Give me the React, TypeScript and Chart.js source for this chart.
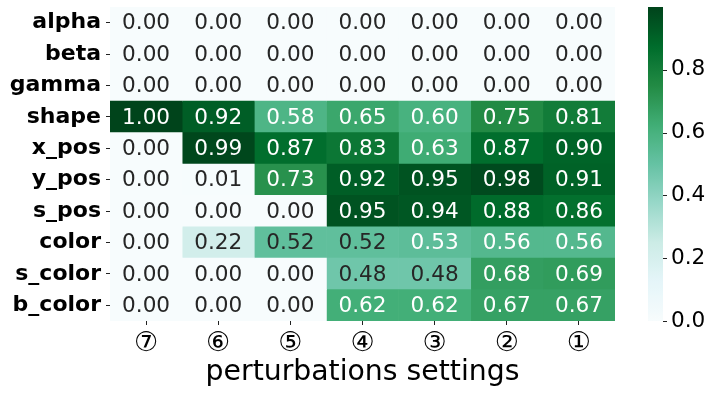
import React, { useEffect, useRef } from "react";
import { Chart, registerables } from "chart.js";

Chart.register(...registerables);

// ---------------- data ----------------
const rowLabels = ["alpha", "beta", "gamma", "shape", "x_pos", "y_pos", "s_pos", "color", "s_color", "b_color"];
const columnLabels = ["⑦", "⑥", "⑤", "④", "③", "②", "①"];

const alphaValues = [0.0, 0.0, 0.0, 0.0, 0.0, 0.0, 0.0];
const betaValues = [0.0, 0.0, 0.0, 0.0, 0.0, 0.0, 0.0];
const gammaValues = [0.0, 0.0, 0.0, 0.0, 0.0, 0.0, 0.0];
const shapeValues = [1.0, 0.92, 0.58, 0.65, 0.6, 0.75, 0.81];
const xPosValues = [0.0, 0.99, 0.87, 0.83, 0.63, 0.87, 0.9];
const yPosValues = [0.0, 0.01, 0.73, 0.92, 0.95, 0.98, 0.91];
const sPosValues = [0.0, 0.0, 0.0, 0.95, 0.94, 0.88, 0.86];
const colorValues = [0.0, 0.22, 0.52, 0.52, 0.53, 0.56, 0.56];
const sColorValues = [0.0, 0.0, 0.0, 0.48, 0.48, 0.68, 0.69];
const bColorValues = [0.0, 0.0, 0.0, 0.62, 0.62, 0.67, 0.67];

const matrix = [
  alphaValues,
  betaValues,
  gammaValues,
  shapeValues,
  xPosValues,
  yPosValues,
  sPosValues,
  colorValues,
  sColorValues,
  bColorValues,
];

const colorbarTicks = [0.0, 0.2, 0.4, 0.6, 0.8];
const colorMin = 0;
const colorMax = 1;
const xAxisTitle = "perturbations settings";

// ---------------- colormap (BuGn) ----------------
const BUGN: number[][] = [
  [247, 252, 253],
  [229, 245, 249],
  [204, 236, 230],
  [153, 216, 201],
  [102, 194, 164],
  [65, 174, 118],
  [35, 139, 69],
  [0, 109, 44],
  [0, 68, 27],
];

function cmapRGB(v: number): number[] {
  let t = (v - colorMin) / (colorMax - colorMin);
  t = Math.max(0, Math.min(1, t));
  const idx = Math.min(255, Math.floor(t * 256));
  const q = idx / 255;
  const s = q * (BUGN.length - 1);
  const i = Math.min(BUGN.length - 2, Math.floor(s));
  const f = s - i;
  return [0, 1, 2].map((k) => BUGN[i][k] + (BUGN[i + 1][k] - BUGN[i][k]) * f);
}

function cmap(v: number): string {
  const [r, g, b] = cmapRGB(v);
  return `rgb(${Math.round(r)},${Math.round(g)},${Math.round(b)})`;
}

function luminance(rgb: number[]): number {
  const lin = rgb.map((c) => {
    const x = c / 255;
    return x <= 0.03928 ? x / 12.92 : Math.pow((x + 0.055) / 1.055, 2.4);
  });
  return 0.2126 * lin[0] + 0.7152 * lin[1] + 0.0722 * lin[2];
}

function textColor(v: number): string {
  return luminance(cmapRGB(v)) > 0.415 ? "#262626" : "#ffffff";
}

const FONT = "'DejaVu Sans', sans-serif";

function zeroPadding(scale: any) {
  scale.paddingTop = 0;
  scale.paddingBottom = 0;
  scale.paddingLeft = 0;
  scale.paddingRight = 0;
}

// ---------------- plugins ----------------
const annotationPlugin = {
  id: "cellAnnotations",
  afterDatasetsDraw(chart: any) {
    const ctx = chart.ctx;
    ctx.save();
    ctx.font = `21.6px ${FONT}`;
    ctx.textAlign = "center";
    ctx.textBaseline = "middle";
    chart.data.datasets.forEach((_: any, c: number) => {
      const meta = chart.getDatasetMeta(c);
      meta.data.forEach((el: any, r: number) => {
        const p = el.getCenterPoint();
        const v = matrix[r][c];
        ctx.fillStyle = textColor(v);
        ctx.fillText(v.toFixed(2), p.x, p.y + 1);
      });
    });
    ctx.restore();
  },
};

const colorbarPlugin = {
  id: "colorbar",
  afterDraw(chart: any) {
    const scale = chart.scales.cb;
    if (!scale) return;
    const ctx = chart.ctx;
    const area = chart.chartArea;
    const x0 = area.right + 33;
    const w = 15;
    const top = scale.getPixelForValue(colorMax);
    const bottom = scale.getPixelForValue(colorMin);
    const grad = ctx.createLinearGradient(0, bottom, 0, top);
    const n = 64;
    for (let i = 0; i <= n; i++) {
      grad.addColorStop(i / n, cmap(colorMin + ((colorMax - colorMin) * i) / n));
    }
    ctx.save();
    ctx.fillStyle = grad;
    ctx.fillRect(x0, top, w, bottom - top);
    ctx.strokeStyle = "#222";
    ctx.lineWidth = 1;
    colorbarTicks.forEach((t) => {
      const y = Math.round(scale.getPixelForValue(t)) + 0.5;
      ctx.beginPath();
      ctx.moveTo(x0 + w, y);
      ctx.lineTo(x0 + w + 4, y);
      ctx.stroke();
    });
    ctx.restore();
  },
};

export default function App() {
  const canvasRef = useRef<HTMLCanvasElement | null>(null);

  useEffect(() => {
    const canvas = canvasRef.current;
    if (!canvas) return;

    const datasets = columnLabels.map((col, c) => ({
      label: col,
      data: rowLabels.map(() => [c, c + 1]),
      backgroundColor: rowLabels.map((_, r) => cmap(matrix[r][c])),
      borderWidth: 0,
      barPercentage: 1,
      categoryPercentage: 1,
      grouped: false,
    }));

    const chart = new Chart(canvas, {
      type: "bar",
      data: { labels: rowLabels, datasets: datasets as any },
      options: {
        animation: false,
        responsive: false,
        devicePixelRatio: 1,
        indexAxis: "y",
        layout: { autoPadding: false, padding: { top: 7, left: 0, right: 0, bottom: 0 } },
        plugins: {
          legend: { display: false },
          tooltip: { enabled: false },
        },
        scales: {
          y: {
            type: "category",
            position: "left",
            offset: true,
            grid: {
              display: true,
              drawOnChartArea: false,
              drawTicks: true,
              tickLength: 4,
              offset: false,
              color: "#222",
            },
            border: { display: false },
            ticks: {
              color: "#000",
              padding: 5,
              font: { family: FONT, size: 22, weight: "bold" },
              autoSkip: false,
            },
            afterFit(scale: any) {
              scale.width = 110;
              zeroPadding(scale);
            },
          },
          x: {
            type: "linear",
            position: "bottom",
            min: 0,
            max: columnLabels.length,
            offset: false,
            grid: {
              display: true,
              drawOnChartArea: false,
              drawTicks: true,
              tickLength: 4,
              offset: false,
              color: "#222",
            },
            border: { display: false },
            afterBuildTicks(scale: any) {
              scale.ticks = columnLabels.map((_, i) => ({ value: i + 0.5 }));
            },
            ticks: {
              color: "#000",
              padding: 3,
              autoSkip: false,
              maxRotation: 0,
              font: { family: FONT, size: 27 },
              callback: (value: any) => columnLabels[Math.floor(Number(value))] ?? "",
            },
            title: {
              display: true,
              text: xAxisTitle,
              color: "#000",
              font: { family: FONT, size: 28.3 },
              padding: { top: 0, bottom: 7 },
            },
            afterFit(scale: any) {
              scale.height = 76;
              zeroPadding(scale);
            },
          },
          cb: {
            type: "linear",
            position: "right",
            axis: "y",
            min: colorMin,
            max: colorMax,
            offset: false,
            grid: { display: false, drawTicks: false, offset: false },
            border: { display: false },
            afterBuildTicks(scale: any) {
              scale.ticks = colorbarTicks.map((v) => ({ value: v }));
            },
            ticks: {
              color: "#000",
              padding: 56,
              autoSkip: false,
              font: { family: FONT, size: 21.6 },
              callback: (value: any) => Number(value).toFixed(1),
            },
            afterFit(scale: any) {
              scale.width = 100;
              zeroPadding(scale);
            },
          } as any,
        },
      },
      plugins: [annotationPlugin, colorbarPlugin],
    });

    return () => chart.destroy();
  }, []);

  return (
    <div style={{ position: "fixed", left: 0, top: 0, width: 715, height: 397, background: "#fff" }}>
      <canvas ref={canvasRef} width={715} height={397} style={{ display: "block" }} />
    </div>
  );
}
